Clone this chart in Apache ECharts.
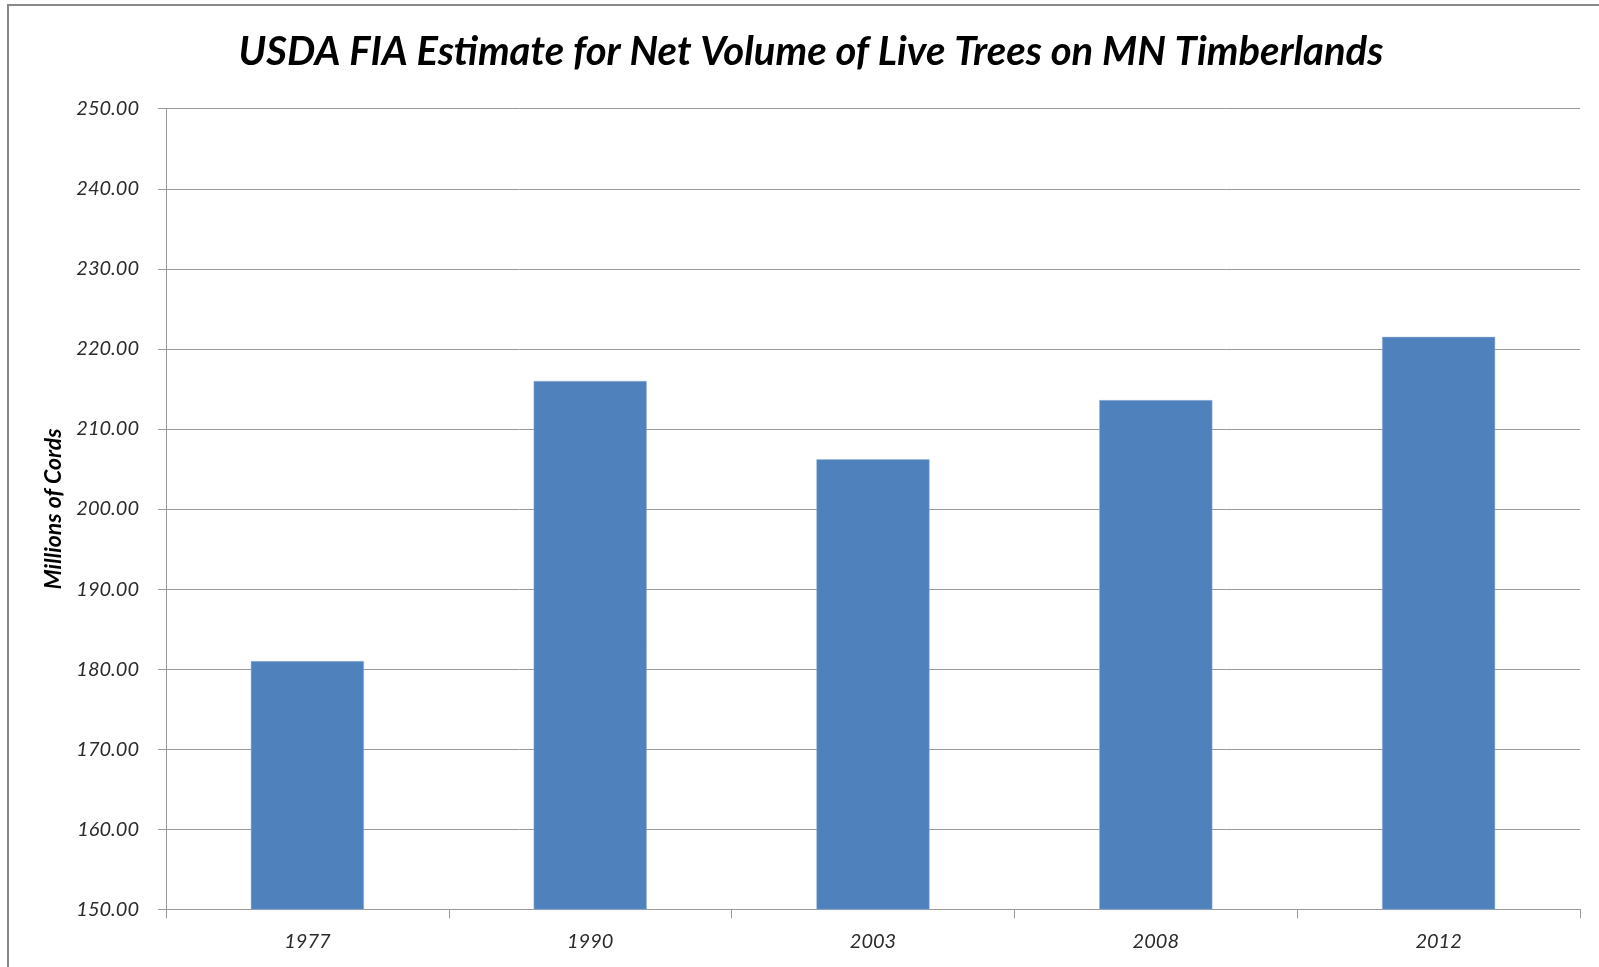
<!DOCTYPE html>
<html>
<head>
<meta charset="utf-8">
<script src="https://cdn.jsdelivr.net/npm/echarts@6/dist/echarts.min.js"></script>
<style>
  html, body { margin: 0; padding: 0; background: #fff; }
  #chart { width: 1599px; height: 967px; }
</style>
</head>
<body>
<div id="chart"></div>
<script>
// survey years
var years = ['1977', '1990', '2003', '2008', '2012'];
// net volume, millions of cords
var volume = [181.0, 216.0, 206.2, 213.6, 221.5];

var yMin = 150, yMax = 250, yStep = 10;

var chart = echarts.init(document.getElementById('chart'));
var option = {
    animation: false,
    backgroundColor: '#fff',
    title: {
        text: 'USDA FIA Estimate for Net Volume of Live Trees on MN Timberlands',
        left: 806,
        textAlign: 'center',
        top: 27,
        textStyle: {
            fontFamily: 'Lato',
            fontSize: 40,
            fontWeight: 'bold',
            fontStyle: 'italic',
            color: '#000'
        }
    },
    graphic: [{
        type: 'rect',
        silent: true,
        shape: { x: 8, y: 5, width: 1700, height: 1100 },
        style: { fill: 'none', stroke: '#888', lineWidth: 2 }
    }],
    grid: {
        left: 166,
        right: 19,
        top: 108.7,
        bottom: 57.7
    },
    xAxis: {
        type: 'category',
        data: years,
        axisLine: { lineStyle: { color: '#999', width: 1 } },
        axisTick: { show: true, length: 9, lineStyle: { color: '#999' } },
        axisLabel: {
            margin: 22,
            fontFamily: 'Lato',
            fontSize: 20,
            fontStyle: 'italic',
            color: '#2b2b2b'
        }
    },
    yAxis: {
        type: 'value',
        min: yMin,
        max: yMax,
        interval: yStep,
        name: 'Millions of Cords',
        nameLocation: 'middle',
        nameGap: 100,
        nameTextStyle: {
            fontFamily: 'Lato',
            fontSize: 23,
            fontWeight: 'bold',
            fontStyle: 'italic',
            color: '#000'
        },
        axisLine: { show: true, lineStyle: { color: '#999', width: 1 } },
        axisTick: { show: true, length: 8, lineStyle: { color: '#999' } },
        splitLine: { lineStyle: { color: '#999', width: 1 } },
        axisLabel: {
            margin: 27,
            fontFamily: 'Lato',
            fontSize: 20,
            fontStyle: 'italic',
            color: '#2b2b2b',
            formatter: function (v) { return v.toFixed(2); }
        }
    },
    series: [{
        type: 'bar',
        data: volume,
        barWidth: '40%',
        itemStyle: { color: '#4F81BD', borderColor: '#9bb6d8', borderWidth: 0.5 }
    }]
};
chart.setOption(option);
</script>
</body>
</html>
